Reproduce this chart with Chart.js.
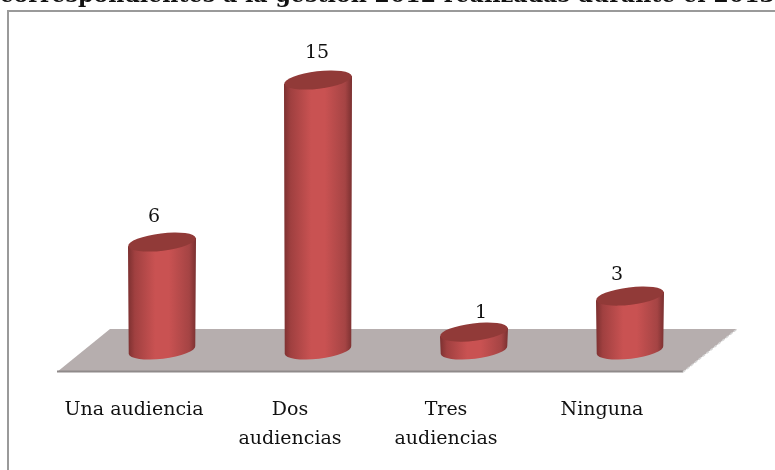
<!DOCTYPE html>
<html><head><meta charset="utf-8">
<script src="https://cdn.jsdelivr.net/npm/chart.js@4"></script>
<style>
html,body{margin:0;padding:0;background:#fff;overflow:hidden;width:775px;height:470px}
#frame{position:absolute;left:7px;top:10px;width:768px;height:460px;border-left:2px solid #9a9a9a;border-top:2px solid #9a9a9a;box-sizing:border-box}
canvas{position:absolute;left:0;top:-20px}
</style></head><body>
<div id="frame"></div>
<canvas id="c" width="775" height="511"></canvas>
<script>
const titleText = "correspondientes a la gestión 2012 realizadas durante el 2013";
const categories = [["Una audiencia"],["Dos","audiencias"],["Tres","audiencias"],["Ninguna"]];
const values = [6,15,1,3];
const serif = "'DejaVu Serif'";
const TOP_RY = 8.7, TILT = -0.12;
const labelNudge = [[-8,-20],[-1,-22],[7,-14],[-13,-16]];

function cylGrad(ctx, bar){
  const hw = bar.width/2, g = ctx.createLinearGradient(bar.x-hw,0,bar.x+hw,0);
  g.addColorStop(0,'#7c3030'); g.addColorStop(.1,'#a04040'); g.addColorStop(.4,'#c95252');
  g.addColorStop(.6,'#c95252'); g.addColorStop(.9,'#a54444'); g.addColorStop(1,'#7a3030');
  return g;
}
const cylinder = {
  id:'cylinder',
  beforeDatasetsDraw(chart){
    const {ctx,scales:{x,y}} = chart, y0 = y.getPixelForValue(0);
    const b = y0+22, t = y0-21;
    const l = x.left, r = x.right;
    ctx.save();
    ctx.beginPath(); ctx.moveTo(l-27,b); ctx.lineTo(l+26,t); ctx.lineTo(r+29,t); ctx.lineTo(r-25,b); ctx.closePath();
    ctx.fillStyle='#b6aeae'; ctx.fill();
    ctx.strokeStyle='#8f8a8a'; ctx.lineWidth=2;
    ctx.beginPath(); ctx.moveTo(l-27,b-0.5); ctx.lineTo(r-25,b-0.5); ctx.stroke();
    ctx.strokeStyle='#d6d6d6'; ctx.lineWidth=1.5; ctx.setLineDash([3,2]);
    ctx.beginPath(); ctx.moveTo(r-25,b); ctx.lineTo(r+29,t); ctx.stroke();
    ctx.restore();
    chart.getDatasetMeta(0).data.forEach(bar=>{
      const hw=bar.width/2, top=bar.y, base=bar.base, dy=hw*Math.sin(-TILT);
      ctx.save();
      ctx.beginPath();
      ctx.moveTo(bar.x-hw,top+dy); ctx.lineTo(bar.x+hw,top-dy);
      ctx.ellipse(bar.x,base,hw-.5,TOP_RY,TILT,0,Math.PI);
      ctx.closePath();
      ctx.fillStyle=cylGrad(ctx,bar); ctx.fill();
      ctx.restore();
    });
  },
  afterDatasetsDraw(chart){
    const {ctx} = chart;
    chart.getDatasetMeta(0).data.forEach(bar=>{
      ctx.save();
      ctx.beginPath();
      ctx.ellipse(bar.x,bar.y,bar.width/2,TOP_RY,TILT,0,Math.PI*2);
      ctx.fillStyle='#913a38'; ctx.fill();
      ctx.restore();
    });
  }
};
const valueLabels = {
  id:'valueLabels',
  afterDatasetsDraw(chart){
    const {ctx} = chart;
    ctx.save();
    ctx.font = "19px "+serif; ctx.fillStyle='#111'; ctx.textAlign='center'; ctx.textBaseline='alphabetic';
    chart.getDatasetMeta(0).data.forEach((bar,i)=>{
      ctx.fillText(String(values[i]), bar.x+labelNudge[i][0], bar.y+labelNudge[i][1]);
    });
    ctx.restore();
  }
};
const hiddenAxis = (position,width)=>({position,display:true,min:0,max:15,grid:{display:false},border:{display:false},ticks:{display:false},afterFit(s){s.width=width;}});
new Chart(document.getElementById('c'),{
  type:'bar',
  data:{labels:categories,datasets:[{data:values,yAxisID:'y',backgroundColor:'rgba(0,0,0,0)',borderWidth:0,barPercentage:.436,categoryPercentage:1}]},
  options:{
    responsive:false,animation:false,
    layout:{padding:0},
    plugins:{legend:{display:false},tooltip:{enabled:false},
      title:{display:true,text:titleText,color:'#111',font:{family:serif,size:22.5,weight:'bold'},padding:{top:3,bottom:70}}},
    scales:{
      x:{grid:{display:false},border:{display:false},ticks:{color:'#111',font:{family:serif,size:19,lineHeight:1.55},labelOffset:-28,maxRotation:0,autoSkip:false,padding:37}},
      y:hiddenAxis('left',84),
      y2:hiddenAxis('right',67)
    }
  },
  plugins:[cylinder,valueLabels]
});
</script>
</body></html>
